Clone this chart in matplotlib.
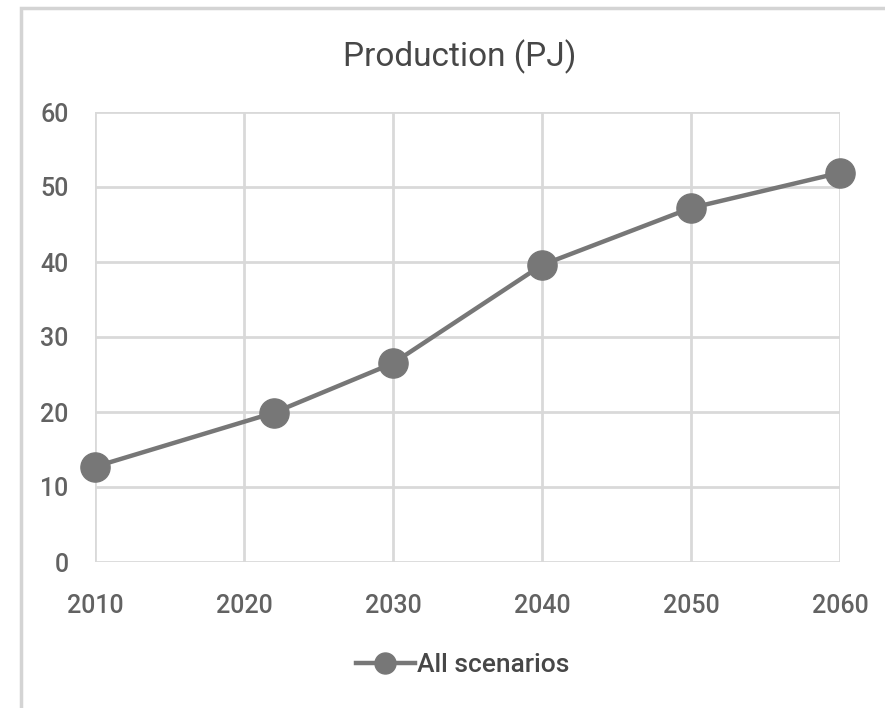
import matplotlib.pyplot as plt
from matplotlib.patches import Rectangle

plt.rcParams['font.family'] = ['Roboto', 'DejaVu Sans']
plt.rcParams['font.weight'] = 'medium'

# Production series (PJ)
years = [2010, 2022, 2030, 2040, 2050, 2060]
production = [12.7, 19.9, 26.5, 39.6, 47.2, 51.9]
x_ticks = [2010, 2020, 2030, 2040, 2050, 2060]
y_ticks = [0, 10, 20, 30, 40, 50, 60]

text_color = '#626262'
grid_color = '#d9d9d9'
line_color = '#777777'

fig = plt.figure(figsize=(8.85, 7.08), dpi=100)
ax = fig.add_axes([95 / 885, 1 - 562 / 708, 745 / 885, 450 / 708])

ax.plot(years, production, color=line_color, lw=3.2, marker='o', markersize=21,
        clip_on=False, zorder=3, label='All scenarios')

ax.set_xlim(2010, 2060)
ax.set_ylim(0, 60)
ax.set_xticks(x_ticks)
ax.set_yticks(y_ticks)
ax.grid(True, color=grid_color, lw=2)
ax.set_axisbelow(True)
for s in ax.spines.values():
    s.set_visible(False)
ax.tick_params(length=0, labelsize=18, colors=text_color)
ax.tick_params(axis='x', pad=23)
ax.tick_params(axis='y', pad=19)

fig.text(460 / 885, 1 - 57 / 708, 'Production (PJ)', ha='center', va='center',
         fontsize=24, color='#474747', weight='normal')

fig.legend(loc='center', bbox_to_anchor=(463 / 885, 1 - 665 / 708), frameon=False,
           fontsize=19, labelcolor='#474747', handlelength=2.2, handletextpad=0.1,
           markerscale=0.72)

# outer chart frame
fig.patches.append(Rectangle((21 / 885, -0.1), 1.0, 1 - 8 / 708 + 0.1,
                             transform=fig.transFigure, fill=False,
                             ec='#d4d4d4', lw=2.5))

fig.savefig('out.png', dpi=100, facecolor='white')
